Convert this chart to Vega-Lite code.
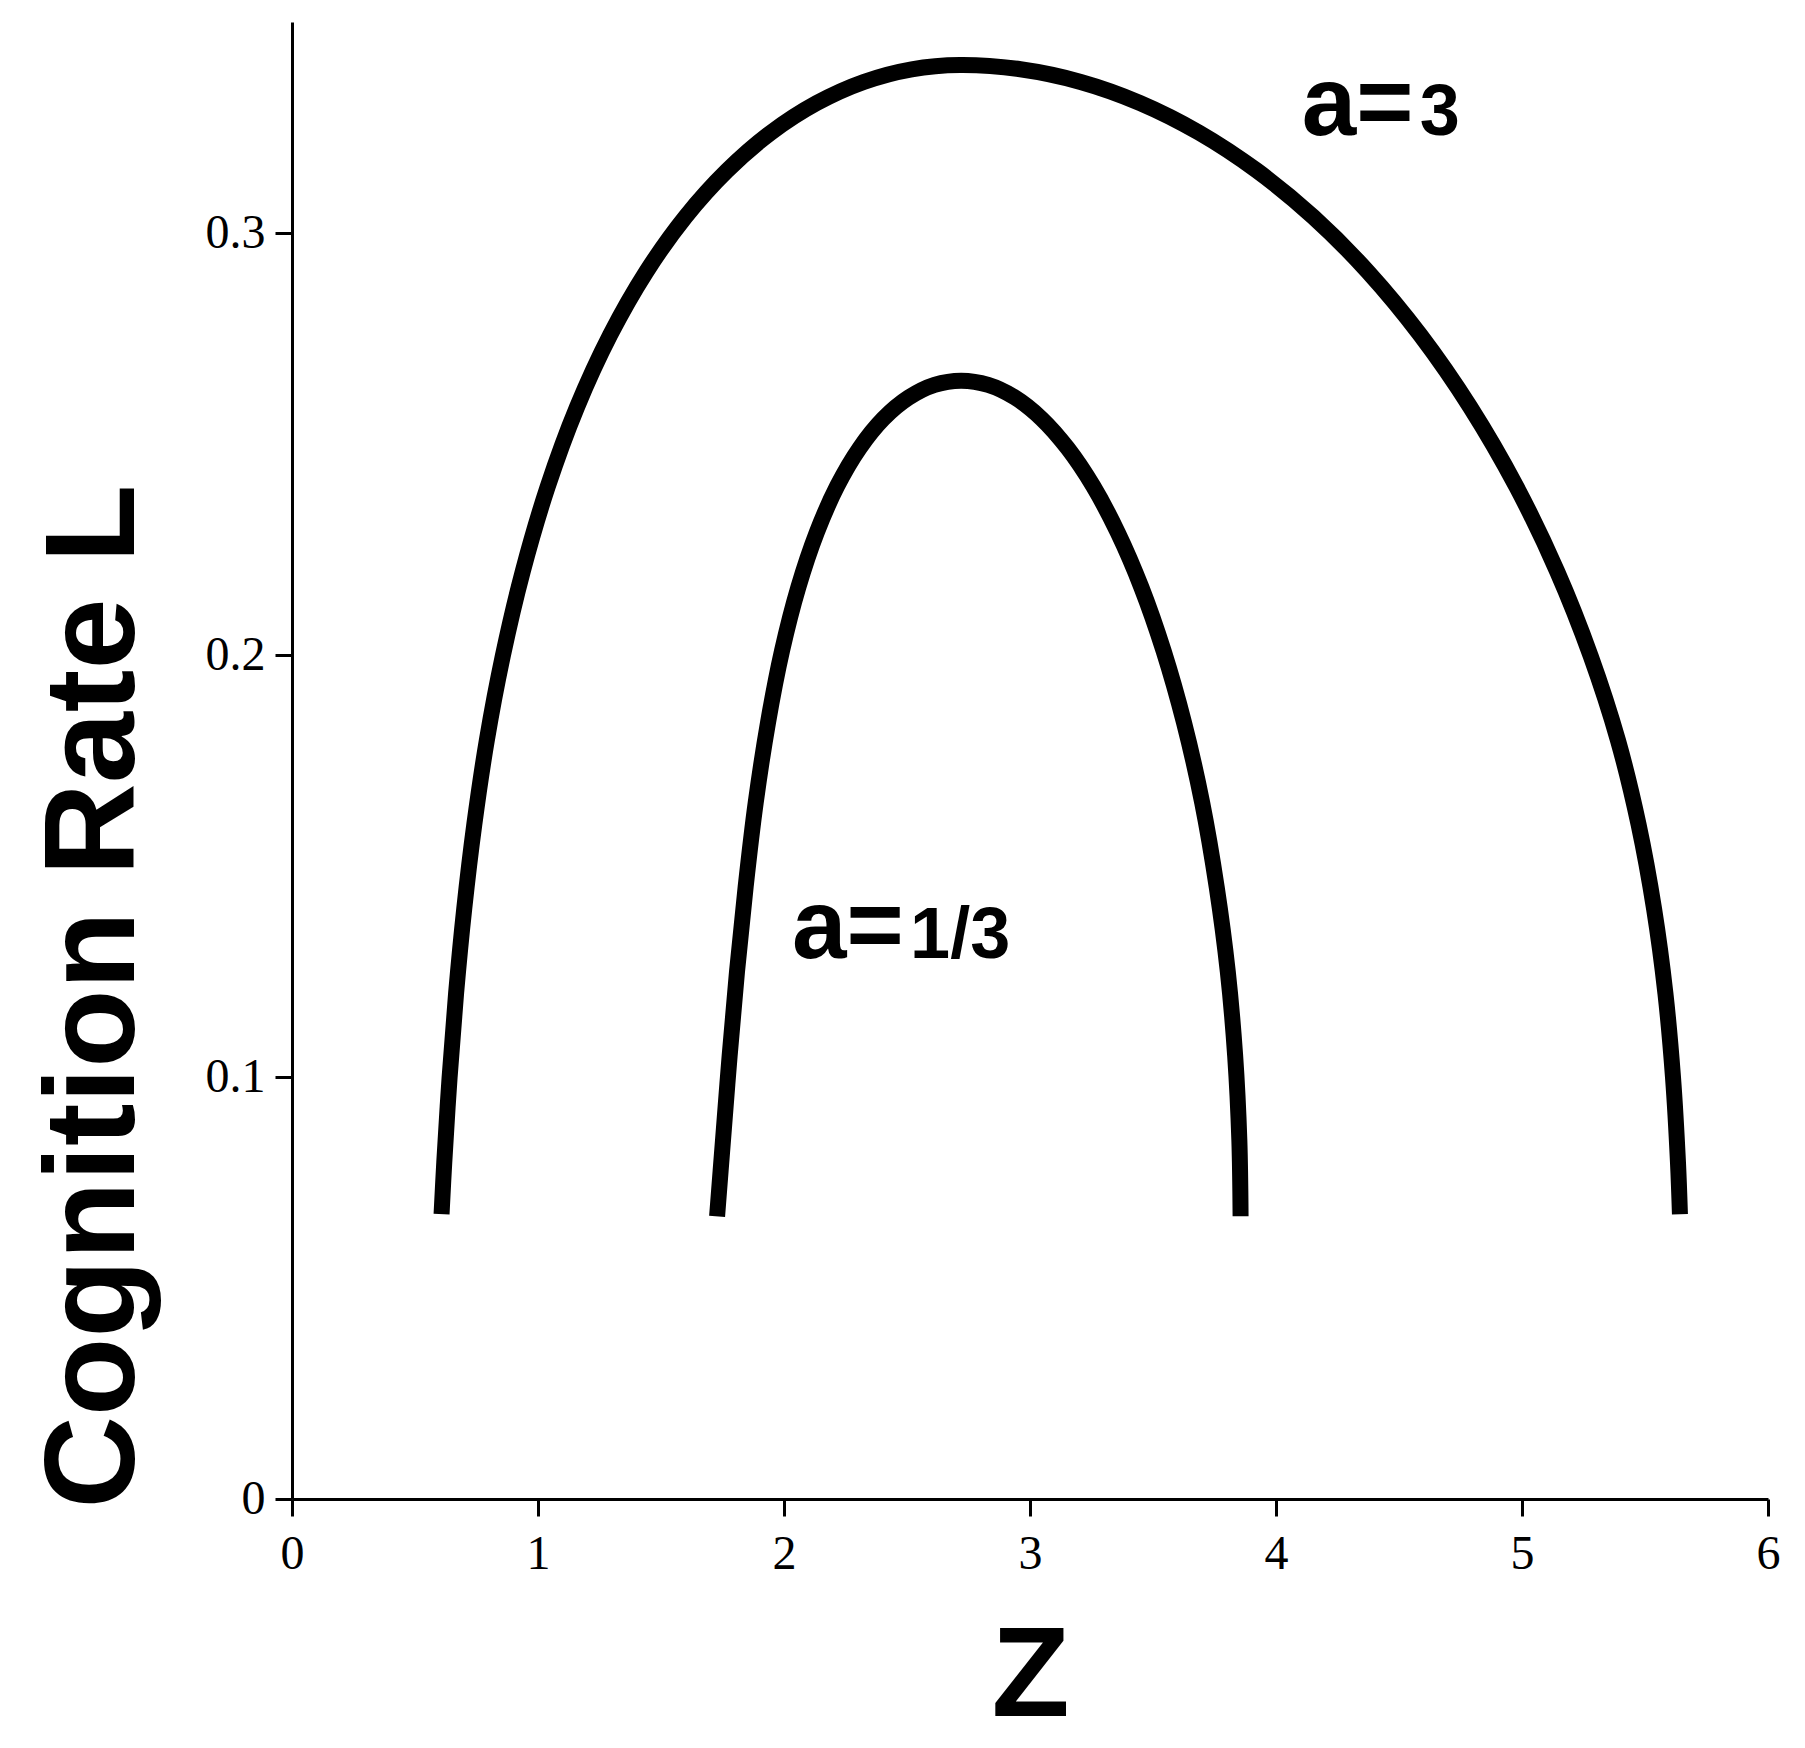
{
  "$schema": "https://vega.github.io/schema/vega-lite/v6.json",
  "width": 1476,
  "height": 1477,
  "autosize": {"type": "none"},
  "padding": {"left": 292, "top": 22, "right": 37, "bottom": 249},
  "background": "white",
  "config": {
    "view": {"stroke": null},
    "axis": {
      "grid": false,
      "domainColor": "black",
      "domainWidth": 3,
      "tickColor": "black",
      "tickWidth": 3,
      "tickSize": 17,
      "labelFont": "Liberation Serif",
      "labelFontSize": 48,
      "labelColor": "black",
      "titleFont": "Liberation Sans",
      "titleFontWeight": "bold",
      "titleFontSize": 128,
      "titleColor": "black"
    }
  },
  "datasets": {
    "curves": [
      {"a": "3", "z": 0.608, "L": 0.0675},
      {"a": "3", "z": 0.619, "L": 0.0798},
      {"a": "3", "z": 0.6405, "L": 0.0998},
      {"a": "3", "z": 0.667, "L": 0.1198},
      {"a": "3", "z": 0.7, "L": 0.1398},
      {"a": "3", "z": 0.741, "L": 0.1598},
      {"a": "3", "z": 0.792, "L": 0.1798},
      {"a": "3", "z": 0.857, "L": 0.1998},
      {"a": "3", "z": 0.938, "L": 0.2198},
      {"a": "3", "z": 1.039, "L": 0.2398},
      {"a": "3", "z": 1.159, "L": 0.2588},
      {"a": "3", "z": 1.293, "L": 0.2758},
      {"a": "3", "z": 1.44, "L": 0.2908},
      {"a": "3", "z": 1.599, "L": 0.3038},
      {"a": "3", "z": 1.769, "L": 0.3148},
      {"a": "3", "z": 1.947, "L": 0.3238},
      {"a": "3", "z": 2.133, "L": 0.3308},
      {"a": "3", "z": 2.324, "L": 0.3358},
      {"a": "3", "z": 2.519, "L": 0.3388},
      {"a": "3", "z": 2.716, "L": 0.3398},
      {"a": "3", "z": 2.961, "L": 0.3388},
      {"a": "3", "z": 3.206, "L": 0.3358},
      {"a": "3", "z": 3.448, "L": 0.3308},
      {"a": "3", "z": 3.687, "L": 0.3238},
      {"a": "3", "z": 3.922, "L": 0.3148},
      {"a": "3", "z": 4.152, "L": 0.3038},
      {"a": "3", "z": 4.374, "L": 0.2908},
      {"a": "3", "z": 4.587, "L": 0.2758},
      {"a": "3", "z": 4.789, "L": 0.2588},
      {"a": "3", "z": 4.978, "L": 0.2398},
      {"a": "3", "z": 5.143, "L": 0.2198},
      {"a": "3", "z": 5.279, "L": 0.1998},
      {"a": "3", "z": 5.39, "L": 0.1798},
      {"a": "3", "z": 5.474, "L": 0.1598},
      {"a": "3", "z": 5.537, "L": 0.1398},
      {"a": "3", "z": 5.583, "L": 0.1198},
      {"a": "3", "z": 5.614, "L": 0.0998},
      {"a": "3", "z": 5.634, "L": 0.0798},
      {"a": "3", "z": 5.642, "L": 0.0675},
      {"a": "1/3", "z": 1.728, "L": 0.067},
      {"a": "1/3", "z": 1.752, "L": 0.085},
      {"a": "1/3", "z": 1.779, "L": 0.105},
      {"a": "1/3", "z": 1.809, "L": 0.125},
      {"a": "1/3", "z": 1.844, "L": 0.145},
      {"a": "1/3", "z": 1.885, "L": 0.165},
      {"a": "1/3", "z": 1.935, "L": 0.184},
      {"a": "1/3", "z": 1.992, "L": 0.201},
      {"a": "1/3", "z": 2.058, "L": 0.216},
      {"a": "1/3", "z": 2.133, "L": 0.229},
      {"a": "1/3", "z": 2.216, "L": 0.24},
      {"a": "1/3", "z": 2.307, "L": 0.249},
      {"a": "1/3", "z": 2.404, "L": 0.256},
      {"a": "1/3", "z": 2.507, "L": 0.261},
      {"a": "1/3", "z": 2.612, "L": 0.264},
      {"a": "1/3", "z": 2.72, "L": 0.265},
      {"a": "1/3", "z": 2.83, "L": 0.264},
      {"a": "1/3", "z": 2.939, "L": 0.261},
      {"a": "1/3", "z": 3.047, "L": 0.256},
      {"a": "1/3", "z": 3.153, "L": 0.249},
      {"a": "1/3", "z": 3.257, "L": 0.24},
      {"a": "1/3", "z": 3.357, "L": 0.229},
      {"a": "1/3", "z": 3.453, "L": 0.216},
      {"a": "1/3", "z": 3.543, "L": 0.201},
      {"a": "1/3", "z": 3.626, "L": 0.184},
      {"a": "1/3", "z": 3.7, "L": 0.165},
      {"a": "1/3", "z": 3.759, "L": 0.145},
      {"a": "1/3", "z": 3.804, "L": 0.125},
      {"a": "1/3", "z": 3.834, "L": 0.105},
      {"a": "1/3", "z": 3.851, "L": 0.085},
      {"a": "1/3", "z": 3.856, "L": 0.067}
    ],
    "labels": [
      {"z": 4.105, "L": 0.3233, "main": "a=", "sub": "3"},
      {"z": 2.033, "L": 0.1283, "main": "a=", "sub": "1/3"}
    ]
  },
  "layer": [
    {
      "data": {"name": "curves"},
      "mark": {"type": "line", "stroke": "black", "strokeWidth": 16, "strokeCap": "butt", "interpolate": "catmull-rom", "clip": false},
      "encoding": {
        "x": {
          "field": "z", "type": "quantitative",
          "scale": {"domain": [0, 6], "nice": false, "zero": false},
          "axis": {
            "title": "Z",
            "values": [0, 1, 2, 3, 4, 5, 6],
            "format": "d",
            "labelPadding": 14,
            "labelFlush": false,
            "titleBaseline": "alphabetic",
            "titleY": 216,
            "titleAnchor": "middle"
          }
        },
        "y": {
          "field": "L", "type": "quantitative",
          "scale": {"domain": [0, 0.35], "nice": false, "zero": false},
          "axis": {
            "title": "Cognition Rate L",
            "values": [0, 0.1, 0.2, 0.3],
            "format": "~g",
            "labelPadding": 10,
            "labelFlush": false,
            "titleAngle": -90,
            "titleAlign": "center",
            "titleBaseline": "alphabetic",
            "titleX": -159,
            "titleY": 974
          }
        },
        "detail": {"field": "a"}
      }
    },
    {
      "data": {"name": "labels"},
      "mark": {"type": "text", "font": "Liberation Sans", "fontWeight": "bold", "fontSize": 98, "align": "left", "baseline": "alphabetic", "color": "black"},
      "encoding": {
        "x": {"field": "z", "type": "quantitative"},
        "y": {"field": "L", "type": "quantitative"},
        "text": {"field": "main"}
      }
    },
    {
      "data": {"name": "labels"},
      "mark": {"type": "text", "font": "Liberation Sans", "fontWeight": "bold", "fontSize": 72, "align": "left", "baseline": "alphabetic", "dx": 118, "color": "black"},
      "encoding": {
        "x": {"field": "z", "type": "quantitative"},
        "y": {"field": "L", "type": "quantitative"},
        "text": {"field": "sub"}
      }
    }
  ]
}
